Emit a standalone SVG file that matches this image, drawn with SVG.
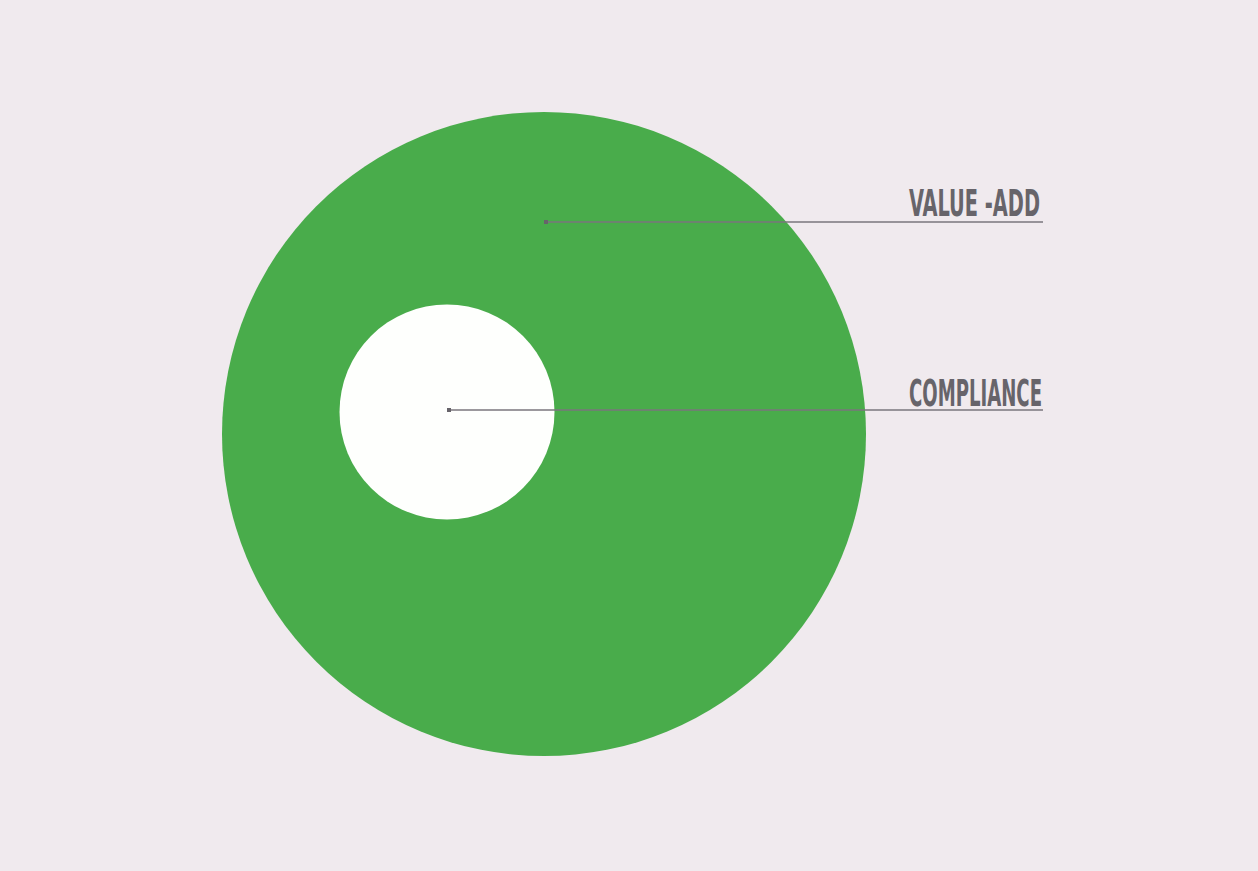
<svg xmlns="http://www.w3.org/2000/svg" width="1258" height="871" viewBox="0 0 1258 871">
<style>
.lbl{font-family:"Liberation Sans Narrow","DejaVu Sans Condensed","Liberation Sans",sans-serif;font-weight:bold;font-size:37px;fill:#67646a;text-anchor:end}
.ln{stroke:#7a767c;stroke-width:1.5;fill:none}
.dot{fill:#67646a}
</style>
<rect width="1258" height="871" fill="#f0eaee"/>
<g id="value-add"><circle cx="544" cy="434" r="322" fill="#49ac4b"/></g>
<g id="compliance"><circle cx="447" cy="412" r="107.5" fill="#fefffd"/></g>
<g id="connectors">
<line class="ln" x1="546" y1="222" x2="1043" y2="222"/>
<rect class="dot" x="544" y="220" width="4" height="4"/>
<line class="ln" x1="449" y1="410" x2="1043" y2="410"/>
<rect class="dot" x="447" y="408" width="4" height="4"/>
</g>
<text class="lbl" x="1040" y="216" textLength="131" lengthAdjust="spacingAndGlyphs">VALUE -ADD</text>
<text class="lbl" x="1042" y="406" textLength="133" lengthAdjust="spacingAndGlyphs">COMPLIANCE</text>
</svg>
